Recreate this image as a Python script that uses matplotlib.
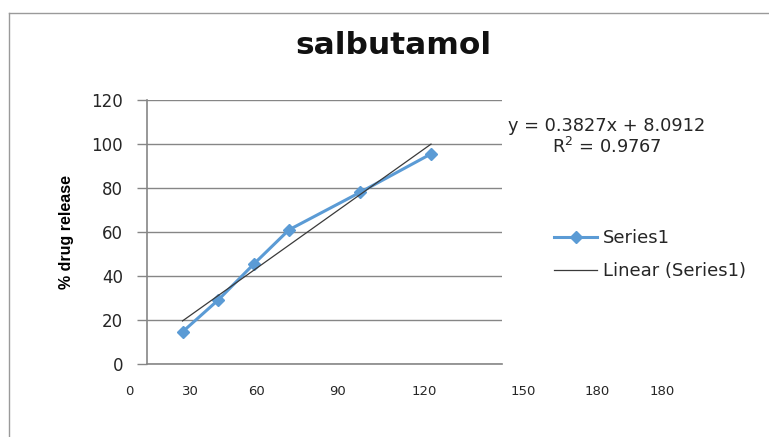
import matplotlib
matplotlib.use("Agg")
import matplotlib.pyplot as plt
from matplotlib.lines import Line2D
import numpy as np

# ---- data ----
time_min = [30, 60, 90, 120, 180, 240]
drug_release = [14.6, 29.0, 45.3, 61.0, 78.0, 95.5]
trend_slope = 0.3827
trend_intercept = 8.0912
r_squared = 0.9767
y_ticks = [0, 20, 40, 60, 80, 100, 120]
x_labels = ["0", "30", "60", "90", "120", "150", "180", "180"]
title = "salbutamol"
y_title = "% drug release"
series_name = "Series1"
trend_name = "Linear (Series1)"

# ---- layout ----
W, H = 769, 437
x_label_pos = [-15.2, 36.9, 92.7, 160.6, 234.1, 317.8, 380.3, 435.2]
txt = "#262626"
grid_c = "#868686"
blue = "#5B9BD5"

plt.rcParams['font.family'] = ['DejaVu Sans']
fig = plt.figure(figsize=(W / 100, H / 100), dpi=100)
fig.patch.set_facecolor("white")

# chart border (open to right/bottom in the crop)
fig.add_artist(Line2D([9 / W, 9 / W], [0, 1 - 13 / H], color="#9a9a9a", lw=1.0))
fig.add_artist(Line2D([9 / W, 1], [1 - 13 / H, 1 - 13 / H], color="#9a9a9a", lw=1.0))

ax = fig.add_axes([147 / W, 1 - 364 / H, (502 - 147) / W, (364 - 100) / H])
ax.set_xlim(0, 300)
ax.set_ylim(0, 120)
ax.set_yticks(y_ticks)
ax.set_xticks([])
ax.yaxis.grid(True, color=grid_c, lw=1.0)
ax.set_axisbelow(True)
for s in ["top", "right"]:
    ax.spines[s].set_visible(False)
for s in ["left", "bottom"]:
    ax.spines[s].set_color(grid_c)
    ax.spines[s].set_linewidth(1.2)
ax.tick_params(axis="y", length=7.2, width=1.0, color=grid_c, pad=10,
               labelsize=12, labelcolor=txt)

# series
ax.plot(time_min, drug_release, color=blue, lw=2.2, marker="D", ms=6,
        mec=blue, mfc=blue, zorder=3)
# trendline
xt = np.array([min(time_min), max(time_min)])
ax.plot(xt, trend_slope * xt + trend_intercept, color="#3a3a3a", lw=0.9, zorder=4)

# x labels (manually placed in original)
for lab, xp in zip(x_labels, x_label_pos):
    ax.text(xp, -12.3, lab, ha="center", va="center", fontsize=9.5,
            color=txt, clip_on=False)

# title & axis title
fig.text(393 / W, 1 - 46 / H, title, ha="center", va="center",
         fontsize=22.5, fontweight="bold", color="#111111")
fig.text(66 / W, 1 - 232 / H, y_title, ha="center", va="center", rotation=90,
         fontsize=11.5, fontweight="bold", color="#000000",
         family=["Liberation Sans", "DejaVu Sans"])

# equation
fig.text(607 / W, 1 - 126 / H,
         f"y = {trend_slope}x + {trend_intercept}", ha="center", va="center",
         fontsize=12.8, color=txt)
fig.text(607 / W, 1 - 147 / H, f"R$^2$ = {r_squared}", ha="center",
         va="center", fontsize=12.8, color=txt)

# legend
handles = [Line2D([], [], color=blue, lw=2.2, marker="D", ms=6),
           Line2D([], [], color="#3a3a3a", lw=0.9)]
leg = fig.legend(handles, [series_name, trend_name], loc="upper left",
                 bbox_to_anchor=(554 / W, 1 - 229 / H), frameon=False,
                 fontsize=13, handlelength=2.4, handletextpad=0.3,
                 labelspacing=0.85, borderpad=0, borderaxespad=0)
for t in leg.get_texts():
    t.set_color(txt)

fig.savefig("out.png", dpi=100)
